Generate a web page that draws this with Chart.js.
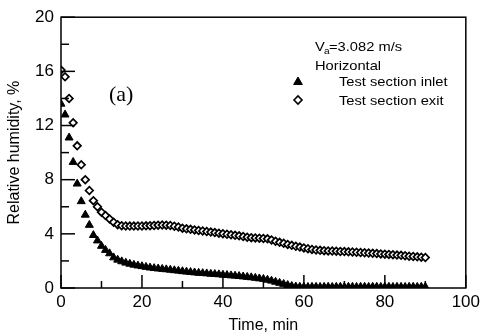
<!DOCTYPE html>
<html>
<head>
<meta charset="utf-8">
<script src="https://cdn.jsdelivr.net/npm/chart.js@4"></script>
<style>
  html, body { margin: 0; padding: 0; background: #fff; }
  #wrap { width: 484px; height: 335px; position: relative; }
</style>
</head>
<body>
<div id="wrap"><canvas id="chart"></canvas></div>
<script>
// time axis, minutes
const times = [];
for (let t = 0; t <= 90; t++) times.push(t);

// relative humidity at test section inlet, %
const inletRH = [
  13.6, 12.8, 11.1, 9.3, 7.7, 6.4, 5.4, 4.65, 3.9, 3.5,
  3.1, 2.8, 2.55, 2.25, 2.08, 1.96, 1.86, 1.78, 1.71, 1.65,
  1.6, 1.55, 1.5, 1.46, 1.43, 1.4, 1.37, 1.34, 1.3, 1.27,
  1.23, 1.2, 1.17, 1.14, 1.11, 1.09, 1.07, 1.04, 1.02, 1.0,
  0.97, 0.95, 0.92, 0.9, 0.87, 0.84, 0.81, 0.78, 0.74, 0.7,
  0.66, 0.6, 0.53, 0.45, 0.37, 0.29, 0.21, 0.14, 0.1, 0.08,
  0.08, 0.07, 0.08, 0.08, 0.07, 0.08, 0.08, 0.07, 0.08, 0.08,
  0.07, 0.08, 0.08, 0.07, 0.08, 0.08, 0.07, 0.08, 0.08, 0.07,
  0.08, 0.08, 0.07, 0.08, 0.08, 0.07, 0.08, 0.08, 0.07, 0.08,
  0.08
];

// relative humidity at test section exit, %
const exitRH = [
  16.1, 15.6, 14.0, 12.2, 10.5, 9.1, 8.0, 7.2, 6.45, 6.0,
  5.6, 5.35, 5.1, 4.86, 4.68, 4.6, 4.58, 4.57, 4.57, 4.58,
  4.58, 4.59, 4.6, 4.62, 4.64, 4.65, 4.64, 4.62, 4.56, 4.5,
  4.42, 4.37, 4.33, 4.29, 4.25, 4.21, 4.17, 4.13, 4.09, 4.05,
  4.01, 3.97, 3.93, 3.89, 3.85, 3.8, 3.75, 3.72, 3.7, 3.68,
  3.66, 3.63, 3.55, 3.45, 3.37, 3.3, 3.22, 3.15, 3.08, 3.02,
  2.96, 2.9, 2.85, 2.81, 2.78, 2.76, 2.74, 2.73, 2.72, 2.7,
  2.69, 2.67, 2.66, 2.64, 2.62, 2.6, 2.58, 2.56, 2.54, 2.52,
  2.5, 2.48, 2.46, 2.43, 2.41, 2.38, 2.35, 2.33, 2.3, 2.28,
  2.25
];

const xTicks = [0, 20, 40, 60, 80, 100];
const yTicks = [0, 4, 8, 12, 16, 20];
const seriesLabels = ["Test section inlet", "Test section exit"];

// stretched text helper (the original figure is a bit wider than tall)
function stretchText(ctx, text, x, y, font, sx, align) {
  ctx.save();
  ctx.font = font;
  ctx.fillStyle = "#000";
  ctx.textAlign = align || "left";
  ctx.textBaseline = "alphabetic";
  ctx.translate(x, y);
  ctx.scale(sx, 1);
  ctx.fillText(text, 0, 0);
  ctx.restore();
}

// frame, inward ticks, legend and notes
const decorations = {
  id: "decorations",
  afterDraw(chart) {
    const ctx = chart.ctx;
    const area = chart.chartArea;
    const xs = chart.scales.x;
    const ys = chart.scales.y;

    ctx.save();
    ctx.strokeStyle = "#000";
    ctx.lineWidth = 1.5;
    ctx.strokeRect(area.left, area.top, area.right - area.left, area.bottom - area.top);

    // y ticks, major every 4, minor every 2
    for (let v = 0; v <= 20; v += 2) {
      const py = ys.getPixelForValue(v);
      const len = v % 4 === 0 ? 14 : 8;
      ctx.beginPath();
      ctx.moveTo(area.left, py);
      ctx.lineTo(area.left + len, py);
      ctx.stroke();
    }
    // x ticks, major every 20, minor every 10
    for (let v = 0; v <= 100; v += 10) {
      const px = xs.getPixelForValue(v);
      const len = v % 20 === 0 ? 13 : 7;
      ctx.beginPath();
      ctx.moveTo(px, area.bottom);
      ctx.lineTo(px, area.bottom - len);
      ctx.stroke();
    }
    ctx.restore();

    // panel label
    stretchText(ctx, "(a)", 109, 101, "22px 'Liberation Serif'", 1.0);

    // air velocity note
    const f = "13px 'Liberation Sans'";
    stretchText(ctx, "V", 315, 51, f, 1.13);
    stretchText(ctx, "a", 324, 54, "9px 'Liberation Sans'", 1.13);
    stretchText(ctx, "=3.082 m/s", 329, 51, f, 1.13);
    stretchText(ctx, "Horizontal", 315, 70, f, 1.13);

    // legend
    const h = Chart.helpers;
    ctx.save();
    ctx.fillStyle = "#000";
    ctx.strokeStyle = "#000";
    ctx.lineWidth = 1;
    h.drawPoint(ctx, { pointStyle: "triangle", radius: 5, rotation: 0, borderWidth: 1 }, 298, 82);
    ctx.fillStyle = "#fff";
    ctx.lineWidth = 1.6;
    h.drawPoint(ctx, { pointStyle: "rectRot", radius: 4, rotation: 0, borderWidth: 1.6 }, 298, 100);
    ctx.restore();
    stretchText(ctx, seriesLabels[0], 339, 86, f, 1.13);
    stretchText(ctx, seriesLabels[1], 339, 105, f, 1.13);
  }
};

const ctx = document.getElementById("chart").getContext("2d");
new Chart(ctx, {
  type: "scatter",
  data: {
    datasets: [
      {
        label: seriesLabels[0],
        data: times.map((t, i) => ({ x: t, y: inletRH[i] })),
        pointStyle: "triangle",
        pointRadius: 4.6,
        backgroundColor: "#000",
        borderColor: "#000",
        borderWidth: 1,
      },
      {
        label: seriesLabels[1],
        data: times.map((t, i) => ({ x: t, y: exitRH[i] })),
        pointStyle: "rectRot",
        pointRadius: 3.8,
        backgroundColor: "#fff",
        borderColor: "#000",
        borderWidth: 1.7,
      },
    ],
  },
  options: {
    responsive: true,
    maintainAspectRatio: false,
    animation: false,
    events: [],
    layout: { padding: { left: 0, right: 16, top: 15, bottom: 0 } },
    plugins: {
      legend: { display: false },
      tooltip: { enabled: false },
    },
    scales: {
      x: {
        type: "linear",
        min: 0,
        max: 100,
        afterBuildTicks: (scale) => {
          scale.ticks = xTicks.map((v) => ({ value: v }));
        },
        afterFit: (scale) => {
          scale.height = 47;
        },
        ticks: {
          color: "#000",
          font: { family: "'Liberation Sans', Arial", size: 17 },
          padding: 4,
          maxRotation: 0,
        },
        grid: { display: false, drawTicks: false },
        border: { display: false },
        title: {
          display: true,
          text: "Time, min",
          color: "#000",
          font: { family: "'Liberation Sans', Arial", size: 16 },
          padding: { top: 0, bottom: 0 },
        },
      },
      y: {
        type: "linear",
        min: 0,
        max: 20,
        afterBuildTicks: (scale) => {
          scale.ticks = yTicks.map((v) => ({ value: v }));
        },
        afterFit: (scale) => {
          scale.width = 61;
        },
        ticks: {
          color: "#000",
          font: { family: "'Liberation Sans', Arial", size: 17 },
          padding: 7,
        },
        grid: { display: false, drawTicks: false },
        border: { display: false },
        title: {
          display: true,
          text: "Relative humidity, %",
          color: "#000",
          font: { family: "'Liberation Sans', Arial", size: 16 },
          padding: { top: 5, bottom: 0 },
        },
      },
    },
  },
  plugins: [decorations],
});
</script>
</body>
</html>
